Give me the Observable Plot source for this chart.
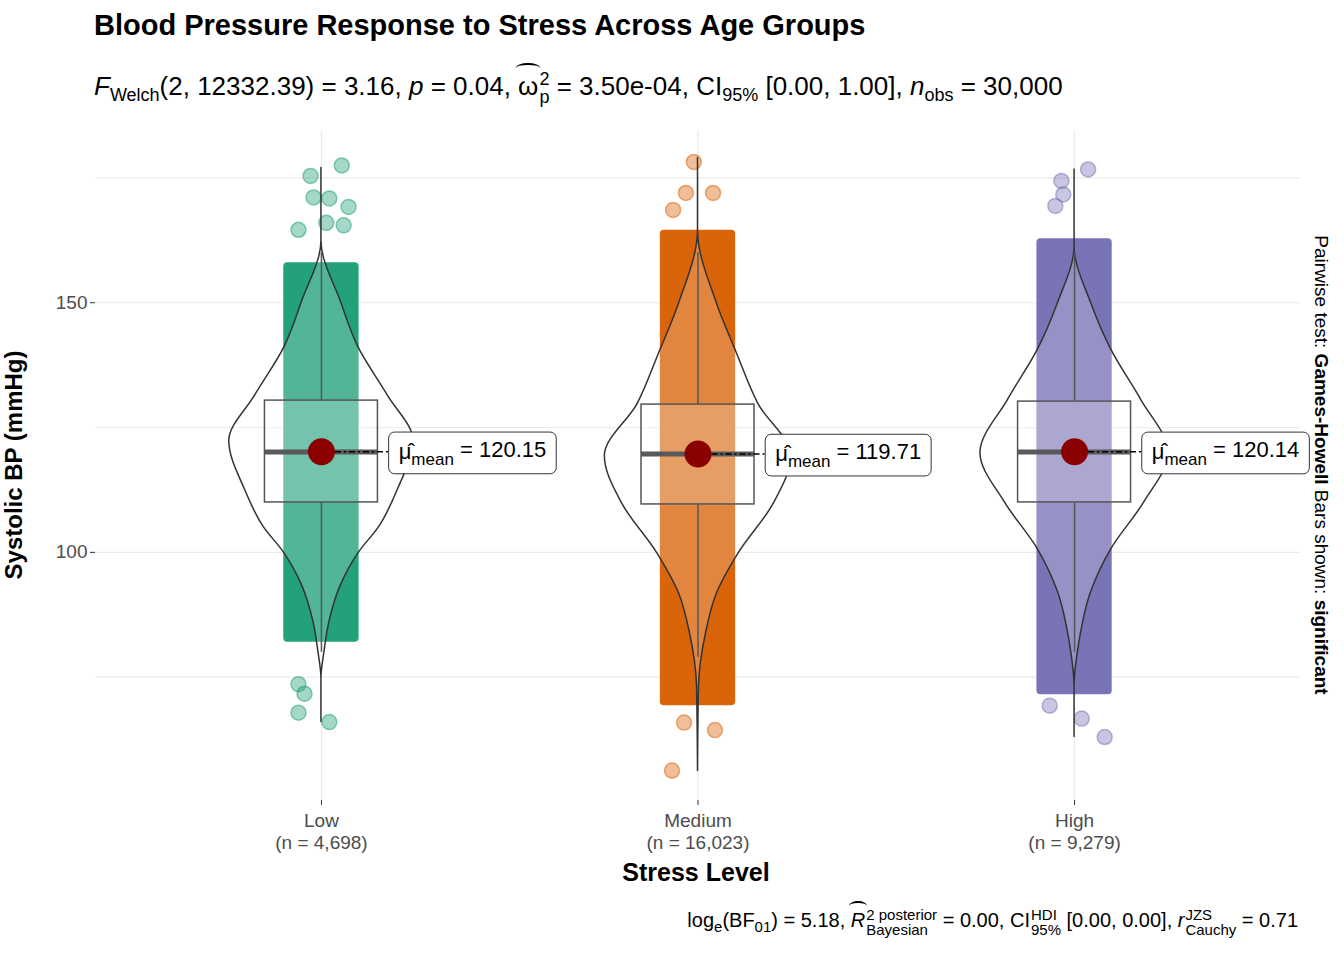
<!DOCTYPE html>
<html>
<head>
<meta charset="utf-8">
<script src="https://cdn.jsdelivr.net/npm/d3@7"></script>
<script src="https://cdn.jsdelivr.net/npm/@observablehq/plot@0.6"></script>
<style>
  body { margin: 0; background: #fff; font-family: "Liberation Sans", Arial, sans-serif; }
  #wrap { position: relative; width: 1344px; height: 960px; overflow: hidden; }
  .abs { position: absolute; white-space: nowrap; }
  .stk { display: inline-flex; flex-direction: column; vertical-align: middle; font-size: 15px; line-height: 15px; margin-left: 1px; }
  .hat { position: relative; display: inline-block; }
  .hat::before { content: ""; position: absolute; left: -2px; right: -2px; top: -8px; height: 8px;
    border-top: 2px solid #000; border-radius: 50% 50% 0 0; }
</style>
</head>
<body>
<div id="wrap">
  <div class="abs" style="left:94px;top:9px;font-size:29px;font-weight:bold;">Blood Pressure Response to Stress Across Age Groups</div>
  <div class="abs" id="sub" style="left:94px;top:70px;font-size:26px;">
    <i>F</i><sub style="font-size:18px">Welch</sub>(2, 12332.39) = 3.16, <i>p</i> = 0.04,
    <span class="hat">ω</span><span class="stk" style="font-size:18px;line-height:18px"><span>2</span><span>p</span></span> = 3.50e-04,
    CI<sub style="font-size:18px">95%</sub> [0.00, 1.00], <i>n</i><sub style="font-size:18px">obs</sub> = 30,000
  </div>
  <div id="chart" class="abs" style="left:0;top:110px;"></div>
  <div class="abs" style="left:14px;top:465px;font-size:24px;font-weight:bold;transform:translate(0,-50%) rotate(-90deg) translate(0,0);transform-origin:center;width:0;display:flex;justify-content:center;">
    <span style="display:inline-block;transform:translateX(0)">Systolic BP (mmHg)</span></div>
  <div class="abs" style="left:696px;top:858px;transform:translateX(-50%);font-size:25px;font-weight:bold;">Stress Level</div>
  <div class="abs" style="left:1306px;top:465px;font-size:19px;transform:translate(0,-50%) rotate(90deg);transform-origin:center;width:30px;display:flex;justify-content:center;">
    <span>Pairwise test: <b>Games-Howell</b> Bars shown: <b>significant</b></span></div>
  <div class="abs" style="right:46px;top:907px;font-size:20px;">
    log<sub style="font-size:15px">e</sub>(BF<sub style="font-size:15px">01</sub>) = 5.18,
    <i class="hat">R</i><span class="stk"><span>2 posterior</span><span>Bayesian</span></span> = 0.00,
    CI<span class="stk"><span>HDI</span><span>95%</span></span> [0.00, 0.00],
    <i>r</i><span class="stk"><span>JZS</span><span>Cauchy</span></span> = 0.71
  </div>
</div>
<script>
const cats = ["Low", "Medium", "High"];
const counts = ["4,698", "16,023", "9,279"];
const colors = ["#1B9E77", "#D95F02", "#7570B3"];
const means = [120.15, 119.71, 120.14];
const q1 = [110.0, 109.6, 110.0];
const medians = [120.1, 119.7, 120.1];
const q3 = [130.4, 129.6, 130.2];
const whiskLo = [80, 79, 80];
const whiskHi = [160, 160, 160];
// dense jitter cloud extent
const bandLo = [82, 69.3, 71.5];
const bandHi = [158, 164.5, 162.8];
// violin outline: values and relative density
const violinY = [
  [177, 162.4, 150, 141.2, 131.4, 122.3, 112.5, 105, 100, 93.6, 86, 80, 74.7, 66],
  [179, 164.5, 149.9, 140, 129.7, 119.3, 109.6, 99.8, 91.7, 83.7, 73.2, 56.2],
  [176.7, 161.3, 149.8, 140.6, 130.6, 119.9, 109.9, 100.6, 92.2, 82.1, 72.9, 63]
];
const violinD = [
  [0, 0, 20, 37, 67, 93, 77, 58, 38, 20, 8, 3, 0, 0],
  [0, 0, 19, 39, 61, 94, 76, 41, 19, 8, 1, 0],
  [0, 0, 17, 37, 67, 95, 70, 37, 17, 5, 0, 0]
];
// sparse extreme points: group, jitter offset, value
const outGroup = [0,0,0,0,0,0,0,0,0,0,0,0, 1,1,1,1,1,1,1, 2,2,2,2,2,2,2];
const outJit = [0.054,-0.029,-0.021,0.021,0.072,-0.061,0.059,0.013,-0.061,-0.045,-0.061,0.021,
  -0.011,-0.032,0.040,-0.066,-0.037,0.045,-0.069,
  0.036,-0.035,-0.051,-0.030,-0.066,0.019,0.080];
const outVal = [177.5,175.4,171.1,170.9,169.2,164.6,165.5,166,73.6,71.7,67.9,66,
  178.2,172,172,168.6,65.9,64.4,56.3,
  176.7,174.4,169.4,171.7,69.3,66.7,63];

const groups = cats.map((c, i) => ({i: i + 1, c, color: colors[i], mean: means[i], q1: q1[i], med: medians[i], q3: q3[i],
  wl: whiskLo[i], wh: whiskHi[i], bl: bandLo[i], bh: bandHi[i]}));
const violin = cats.flatMap((c, i) => violinY[i].map((y, k) => ({g: i + 1, y, d: violinD[i][k]})));
const outs = outVal.map((v, k) => ({x: outGroup[k] + 1 + outJit[k], y: v, color: colors[outGroup[k]]}));
const vw = 0.25 / 95;

const chart = Plot.plot({
  width: 1344, height: 750,
  marginLeft: 95, marginRight: 44, marginTop: 20, marginBottom: 60,
  style: {fontFamily: "Liberation Sans, Arial, sans-serif", background: "transparent"},
  x: {domain: [0.4, 3.6], axis: null},
  y: {domain: [50.3, 184.5], axis: null},
  marks: [
    Plot.gridY([75, 100, 125, 150, 175], {stroke: "#ebebeb", strokeOpacity: 1, strokeWidth: 1.2}),
    Plot.gridX([1, 2, 3], {stroke: "#ebebeb", strokeOpacity: 1, strokeWidth: 1.2}),
    Plot.axisY([100, 150], {tickSize: 5, stroke: "#333", fontSize: 19, fill: "#4d4d4d", tickPadding: 3}),
    Plot.axisX([1, 2, 3], {tickSize: 5, stroke: "#333", fontSize: 19, fill: "#4d4d4d", lineHeight: 1.2, tickPadding: 5,
      tickFormat: d => `${cats[d - 1]}\n(n = ${counts[d - 1]})`}),
    Plot.dot(outs, {x: "x", y: "y", r: 7.5, fill: "color", fillOpacity: 0.4, stroke: "color", strokeOpacity: 0.5}),
    Plot.rect(groups, {x1: d => d.i - 0.1, x2: d => d.i + 0.1, y1: "bl", y2: "bh", fill: "color", fillOpacity: 0.97, rx: 4}),
    Plot.areaX(violin, {z: "g", y: "y", x1: d => d.g - d.d * vw, x2: d => d.g + d.d * vw, curve: "monotone-y",
      fill: "white", fillOpacity: 0.22, stroke: "#333", strokeWidth: 1.5}),
    Plot.ruleX(groups, {x: "i", y1: "q3", y2: "wh", stroke: "#555", strokeWidth: 1.5}),
    Plot.ruleX(groups, {x: "i", y1: "q1", y2: "wl", stroke: "#555", strokeWidth: 1.5}),
    Plot.rect(groups, {x1: d => d.i - 0.15, x2: d => d.i + 0.15, y1: "q1", y2: "q3", fill: "white", fillOpacity: 0.2, stroke: "#555", strokeWidth: 1.5}),
    Plot.ruleY(groups, {y: "med", x1: d => d.i - 0.15, x2: d => d.i + 0.15, stroke: "#595959", strokeWidth: 5}),
    Plot.ruleY(groups, {y: "mean", x1: "i", x2: d => d.i + 0.178, stroke: "#000", strokeWidth: 1.5, strokeDasharray: "6,3,2,3"}),
    Plot.dot(groups, {x: "i", y: "mean", r: 13.5, fill: "#8B0000"}),
    Plot.text(groups, {x: d => d.i + 0.205, y: "mean", text: d => d.mean.toFixed(2), textAnchor: "start",
      fontSize: 22, fill: "#000", className: "mlab"})
  ]
});
d3.select("#chart").append(() => chart);

// turn labels into "μ̂ mean = value" with a rounded box behind
d3.select(chart).selectAll(".mlab text").each(function() {
  const t = d3.select(this);
  const v = t.text();
  t.text(null);
  t.append("tspan").text("μ\u0302");
  t.append("tspan").attr("font-size", 17).attr("dy", "0.35em").text("mean");
  t.append("tspan").attr("dy", "-0.35em").text(" = " + v);
  const b = this.getBBox();
  d3.select(this.parentNode).insert("rect", () => this)
    .attr("x", b.x - 10).attr("y", b.y - 5).attr("width", b.width + 20).attr("height", b.height + 10)
    .attr("rx", 6).attr("fill", "white").attr("stroke", "#333").attr("stroke-width", 1)
    .attr("transform", t.attr("transform"));
});
</script>
</body>
</html>
